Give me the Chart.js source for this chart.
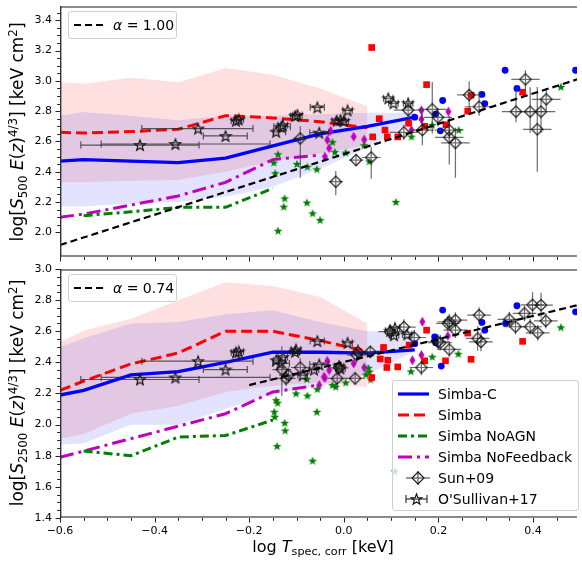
<!DOCTYPE html>
<html><head><meta charset="utf-8">
<script src="https://cdn.jsdelivr.net/npm/chart.js@4.4.1/dist/chart.umd.min.js"></script>
<style>
html,body{margin:0;padding:0;background:#fff;}
#wrap{position:relative;width:582px;height:562px;overflow:hidden;font-family:"DejaVu Sans",sans-serif;color:#000;}
canvas{position:absolute;left:0;}
#c1{top:0;} #c2{top:262px;}
.ylab,.xlab{position:absolute;white-space:nowrap;font-size:16px;line-height:1;}
.ylab{transform:translate(-50%,-50%) rotate(-90deg);font-size:17px;}
.xlab{transform:translate(-50%,-50%);}
.sub{font-size:0.7em;vertical-align:-0.3em;}
.sup{font-size:0.7em;vertical-align:0.5em;}
.box{position:absolute;box-sizing:border-box;border:1px solid #d0d0d0;border-radius:3px;background:rgba(255,255,255,0.8);z-index:5;}
.row{position:absolute;left:0;height:20px;width:100%;}
.row svg{position:absolute;left:4px;top:2px;}
.row span{position:absolute;left:45px;top:2px;font-size:14px;line-height:16px;white-space:nowrap;}
</style></head>
<body><div id="wrap">
<canvas id="c1" width="582" height="262"></canvas>
<canvas id="c2" width="582" height="300"></canvas>

<div class="ylab" style="left:19px;top:132px;">log[<i>S</i><span class="sub">500</span> <i>E</i>(<i>z</i>)<span class="sup">4/3</span>] [keV cm<span class="sup">2</span>]</div>
<div class="ylab" style="left:19px;top:393px;">log[<i>S</i><span class="sub">2500</span> <i>E</i>(<i>z</i>)<span class="sup">4/3</span>] [keV cm<span class="sup">2</span>]</div>
<div class="xlab" style="left:323px;top:548px;">log <i>T</i><span class="sub">spec, corr</span> [keV]</div>

<div class="box" style="left:68px;top:11px;width:109px;height:28px;">
  <div class="row" style="top:3px;"><svg width="32" height="16"><line x1="1" y1="8" x2="31" y2="8" stroke="#000" stroke-width="2.2" stroke-dasharray="7,4"/></svg><span style="left:44px;"><i>α</i> = 1.00</span></div>
</div>
<div class="box" style="left:68px;top:274px;width:109px;height:28px;">
  <div class="row" style="top:3px;"><svg width="32" height="16"><line x1="1" y1="8" x2="31" y2="8" stroke="#000" stroke-width="2.2" stroke-dasharray="7,4"/></svg><span style="left:44px;"><i>α</i> = 0.74</span></div>
</div>

<div class="box" style="left:392px;top:380px;width:187px;height:131px;">
  <div class="row" style="top:3px;"><svg width="34" height="16"><line x1="1" y1="8" x2="32" y2="8" stroke="#0000ff" stroke-width="3.2"/></svg><span>Simba-C</span></div>
  <div class="row" style="top:24px;"><svg width="34" height="16"><line x1="1" y1="8" x2="32" y2="8" stroke="#ff0000" stroke-width="3" stroke-dasharray="11,5"/></svg><span>Simba</span></div>
  <div class="row" style="top:45px;"><svg width="34" height="16"><line x1="1" y1="8" x2="32" y2="8" stroke="#008000" stroke-width="3" stroke-dasharray="9,4,3,4"/></svg><span>Simba NoAGN</span></div>
  <div class="row" style="top:66px;"><svg width="34" height="16"><line x1="1" y1="8" x2="32" y2="8" stroke="#bf00bf" stroke-width="3" stroke-dasharray="14,5,3,5"/></svg><span>Simba NoFeedback</span></div>
  <div class="row" style="top:87px;"><svg width="34" height="16"><line x1="9" y1="8" x2="33" y2="8" stroke="#555" stroke-width="1.2"/><line x1="21" y1="1" x2="21" y2="15" stroke="#555" stroke-width="1.2"/><path d="M21 2 L27 8 L21 14 L15 8Z" fill="none" stroke="#111" stroke-width="1.1"/></svg><span>Sun+09</span></div>
  <div class="row" style="top:108px;"><svg width="34" height="16"><line x1="9" y1="8" x2="30" y2="8" stroke="#333" stroke-width="1.2"/><line x1="9" y1="4" x2="9" y2="12" stroke="#333" stroke-width="1.2"/><line x1="30" y1="4" x2="30" y2="12" stroke="#333" stroke-width="1.2"/><path id="lstar" d="" fill="none" stroke="#111" stroke-width="1.2"/></svg><span>O'Sullivan+17</span></div>
</div>
</div>

<script>
// ---------------- DATA ----------------
const xMajorTicks = [-0.6, -0.4, -0.2, 0.0, 0.2, 0.4];
const y500Ticks   = [2.0, 2.2, 2.4, 2.6, 2.8, 3.0, 3.2, 3.4];
const y2500Ticks  = [1.4, 1.6, 1.8, 2.0, 2.2, 2.4, 2.6, 2.8, 3.0];
const xRange      = [-0.6, 0.493];
const y500Range   = [1.837, 3.494];
const y2500Range  = [1.4, 3.0];

// binned medians (x of bins)
const binX   = [-0.6, -0.55, -0.45, -0.35, -0.25, -0.15, -0.05, 0.05, 0.15];
const noAGNX = [-0.55, -0.45, -0.35, -0.25, -0.15];
const noFBX  = [-0.6, -0.55, -0.45, -0.35, -0.25, -0.15, -0.05];

// ---- top panel: S500 ----
const simbaC500   = [2.47, 2.48, 2.47, 2.46, 2.49, 2.57, 2.65, 2.70, 2.76];
const simbaC500Lo = [2.17, 2.17, 2.19, 2.20, 2.235, 2.30, 2.42, 2.56, 2.74];
const simbaC500Hi = [2.77, 2.795, 2.77, 2.74, 2.77, 2.77, 2.78, 2.79, 2.79];
const simba500    = [2.66, 2.655, 2.665, 2.68, 2.77, 2.755, 2.73, 2.69];
const simba500Lo  = [2.33, 2.33, 2.34, 2.345, 2.40, 2.47, 2.52, 2.575];
const simba500Hi  = [2.99, 2.98, 3.02, 2.99, 3.085, 3.04, 2.95, 2.83];
const noAGN500    = [2.11, 2.135, 2.165, 2.165, 2.29];
const noFB500     = [2.10, 2.12, 2.18, 2.24, 2.33, 2.48, 2.51];
const alpha500X   = [-0.6, 0.5];
const alpha500Y   = [1.916, 3.016];

const simbaCPts500X = [0.15, 0.194, 0.204, 0.209, 0.292, 0.298, 0.341, 0.366, 0.49];
const simbaCPts500Y = [2.76, 2.78, 2.67, 2.87, 2.91, 2.85, 3.07, 2.95, 3.07];
const simbaPts500X  = [0.059, 0.061, 0.075, 0.087, 0.092, 0.114, 0.137, 0.171, 0.175, 0.216, 0.262, 0.269, 0.378];
const simbaPts500Y  = [3.22, 2.63, 2.75, 2.675, 2.63, 2.63, 2.72, 2.70, 2.975, 2.71, 2.80, 2.905, 2.925];
const noAGNPts500X  = [-0.148, -0.145, -0.139, -0.125, -0.127, -0.139, -0.099, -0.078, -0.066, -0.05, -0.077, -0.057, -0.024, -0.019, 0.004, 0.043, 0.054, 0.11, 0.143, 0.187, 0.243, 0.459];
const noAGNPts500Y  = [2.46, 2.39, 2.515, 2.224, 2.169, 2.01, 2.451, 2.196, 2.125, 2.081, 2.433, 2.416, 2.595, 2.53, 2.526, 2.575, 2.468, 2.20, 2.632, 2.708, 2.675, 2.96];
const noFBPts500X   = [-0.04, -0.035, -0.031, -0.028, 0.021, 0.043, 0.143, 0.164, 0.164, 0.221];
const noFBPts500Y   = [2.50, 2.61, 2.555, 2.67, 2.631, 2.612, 2.675, 2.805, 2.746, 2.797];

const sun500X    = [-0.092, -0.017, 0.026, 0.058, 0.127, 0.136, 0.166, 0.187, 0.199, 0.223, 0.223, 0.236, 0.265, 0.286, 0.364, 0.384, 0.394, 0.409, 0.417, 0.428];
const sun500Y    = [2.62, 2.334, 2.477, 2.494, 2.66, 2.807, 2.675, 2.812, 2.759, 2.627, 2.675, 2.591, 2.907, 2.829, 2.797, 3.01, 2.797, 2.68, 2.797, 2.878];
const sun500XErr = [0.015, 0.015, 0.015, 0.02, 0.03, 0.03, 0.025, 0.03, 0.03, 0.03, 0.03, 0.03, 0.025, 0.03, 0.03, 0.03, 0.03, 0.03, 0.03, 0.03];
const sun500YUp  = [0.08, 0.07, 0.04, 0.07, 0.05, 0.07, 0.11, 0.18, 0.06, 0.14, 0.06, 0.10, 0.09, 0.10, 0.14, 0.06, 0.16, 0.28, 0.08, 0.07];
const sun500YDn  = [0.26, 0.09, 0.04, 0.14, 0.05, 0.07, 0.10, 0.16, 0.06, 0.18, 0.06, 0.23, 0.10, 0.06, 0.07, 0.07, 0.14, 0.28, 0.14, 0.07];

const os500X   = [-0.431, -0.356, -0.308, -0.25, -0.228, -0.222, -0.143, -0.132, -0.129, -0.103, -0.098, -0.056, -0.052, -0.015, -0.007, 0.0, 0.008, 0.094, 0.105, 0.136];
const os500Y   = [2.576, 2.583, 2.685, 2.636, 2.737, 2.745, 2.664, 2.697, 2.708, 2.768, 2.775, 2.825, 2.658, 2.737, 2.742, 2.735, 2.805, 2.885, 2.852, 2.852];
const os500XLo = [0.125, 0.157, 0.119, 0.047, 0.01, 0.01, 0.006, 0.016, 0.01, 0.01, 0.01, 0.015, 0.02, 0.01, 0.01, 0.01, 0.01, 0.01, 0.01, 0.01];
const os500XHi = [0.125, 0.200, 0.116, 0.046, 0.01, 0.01, 0.02, 0.019, 0.01, 0.01, 0.01, 0.015, 0.02, 0.01, 0.01, 0.01, 0.01, 0.01, 0.01, 0.01];

// ---- bottom panel: S2500 ----
const simbaC2500   = [2.19, 2.22, 2.32, 2.34, 2.40, 2.465, 2.465, 2.46, 2.48];
const simbaC2500Lo = [1.87, 1.88, 2.00, 2.00, 2.10, 2.20, 2.25, 2.32, 2.47];
const simbaC2500Hi = [2.50, 2.555, 2.65, 2.66, 2.71, 2.735, 2.66, 2.60, 2.60];
const simba2500    = [2.22, 2.28, 2.39, 2.46, 2.60, 2.60, 2.54, 2.47];
const simba2500Lo  = [1.91, 1.94, 2.07, 2.12, 2.21, 2.25, 2.27, 2.24];
const simba2500Hi  = [2.53, 2.605, 2.68, 2.80, 2.915, 2.89, 2.82, 2.65];
const noAGN2500    = [1.83, 1.80, 1.92, 1.93, 2.03];
const noFB2500     = [1.79, 1.83, 1.91, 1.99, 2.07, 2.21, 2.255];
const alpha2500X   = [-0.2, 0.5];
const alpha2500Y   = [2.254, 2.772];

const simbaCPts2500X = [0.15, 0.192, 0.194, 0.206, 0.209, 0.292, 0.298, 0.342, 0.366, 0.49];
const simbaCPts2500Y = [2.52, 2.564, 2.526, 2.376, 2.736, 2.657, 2.607, 2.65, 2.764, 2.725];
const simbaPts2500X  = [0.059, 0.077, 0.084, 0.091, 0.093, 0.114, 0.138, 0.171, 0.175, 0.215, 0.262, 0.269, 0.378];
const simbaPts2500Y  = [2.303, 2.422, 2.496, 2.367, 2.414, 2.371, 2.511, 2.41, 2.607, 2.41, 2.588, 2.42, 2.535];
const noAGNPts2500X  = [-0.143, -0.14, -0.147, -0.146, -0.125, -0.124, -0.141, -0.101, -0.077, -0.078, -0.057, -0.056, -0.066, -0.024, -0.017, 0.004, 0.047, 0.052, 0.054, 0.057, 0.108, 0.142, 0.187, 0.242, 0.459];
const noAGNPts2500Y  = [2.157, 2.14, 2.082, 2.05, 2.011, 1.962, 1.862, 2.20, 2.186, 2.293, 2.082, 2.228, 1.768, 2.254, 2.243, 2.27, 2.322, 2.365, 2.34, 2.29, 1.70, 2.342, 2.436, 2.455, 2.625];
const noFBPts2500X   = [-0.052, -0.042, -0.04, -0.035, -0.031, 0.021, 0.043, 0.145, 0.164, 0.166, 0.22];
const noFBPts2500Y   = [2.254, 2.307, 2.30, 2.41, 2.35, 2.393, 2.367, 2.414, 2.447, 2.661, 2.57];

const sun2500X    = [-0.131, -0.122, -0.117, -0.092, -0.014, -0.01, 0.024, 0.027, 0.03, 0.056, 0.098, 0.127, 0.149, 0.164, 0.199, 0.204, 0.22, 0.223, 0.223, 0.236, 0.236, 0.283, 0.286, 0.29, 0.35, 0.363, 0.382, 0.394, 0.399, 0.41, 0.417, 0.427];
const sun2500Y    = [2.354, 2.297, 2.318, 2.367, 2.297, 2.365, 2.297, 2.447, 2.468, 2.468, 2.597, 2.627, 2.56, 2.367, 2.532, 2.526, 2.65, 2.483, 2.661, 2.672, 2.607, 2.554, 2.704, 2.532, 2.676, 2.629, 2.715, 2.629, 2.77, 2.59, 2.768, 2.667];
const sun2500XErr = [0.02, 0.02, 0.02, 0.02, 0.02, 0.02, 0.02, 0.02, 0.02, 0.02, 0.025, 0.025, 0.025, 0.025, 0.025, 0.025, 0.025, 0.025, 0.025, 0.025, 0.025, 0.025, 0.025, 0.025, 0.025, 0.025, 0.025, 0.025, 0.025, 0.025, 0.025, 0.025];
const sun2500YUp  = [0.15, 0.05, 0.05, 0.06, 0.05, 0.05, 0.04, 0.05, 0.05, 0.04, 0.05, 0.05, 0.05, 0.05, 0.05, 0.05, 0.05, 0.05, 0.05, 0.05, 0.05, 0.08, 0.05, 0.06, 0.05, 0.05, 0.05, 0.05, 0.08, 0.05, 0.08, 0.05];
const sun2500YDn  = [0.17, 0.05, 0.05, 0.06, 0.05, 0.05, 0.04, 0.05, 0.05, 0.04, 0.05, 0.05, 0.05, 0.05, 0.05, 0.05, 0.05, 0.05, 0.05, 0.05, 0.05, 0.08, 0.05, 0.06, 0.05, 0.05, 0.05, 0.05, 0.08, 0.05, 0.08, 0.05];

const os2500X   = [-0.431, -0.356, -0.308, -0.25, -0.228, -0.222, -0.143, -0.134, -0.129, -0.103, -0.101, -0.087, -0.063, -0.056, -0.052, -0.01, -0.007, 0.008, 0.098, 0.106, 0.108, 0.134];
const os2500Y   = [2.29, 2.303, 2.408, 2.354, 2.464, 2.47, 2.414, 2.393, 2.434, 2.468, 2.483, 2.318, 2.354, 2.537, 2.387, 2.376, 2.361, 2.526, 2.603, 2.575, 2.622, 2.58];
const os2500XLo = [0.125, 0.157, 0.119, 0.047, 0.01, 0.01, 0.006, 0.016, 0.01, 0.01, 0.01, 0.01, 0.01, 0.015, 0.02, 0.01, 0.01, 0.01, 0.01, 0.01, 0.01, 0.01];
const os2500XHi = [0.125, 0.200, 0.116, 0.046, 0.01, 0.01, 0.02, 0.019, 0.01, 0.01, 0.01, 0.01, 0.01, 0.015, 0.02, 0.01, 0.01, 0.01, 0.01, 0.01, 0.01, 0.01];

// ---------------- MARKERS ----------------
function starPath(g, cx, cy, R, r) {
  g.beginPath();
  for (let k = 0; k < 10; k++) {
    const a = -Math.PI / 2 + k * Math.PI / 5, rad = k % 2 ? r : R;
    g.lineTo(cx + rad * Math.cos(a), cy + rad * Math.sin(a));
  }
  g.closePath();
}
function mk(w, h, fn) { const c = document.createElement('canvas'); c.width = w; c.height = h; fn(c.getContext('2d')); return c; }
const greenStar   = mk(10, 10, g => { starPath(g, 5, 5.4, 4.6, 1.9); g.fillStyle = '#008000'; g.fill(); });
const openStar    = mk(14, 14, g => { starPath(g, 7, 7.6, 5.6, 2.3); g.strokeStyle = '#111'; g.lineWidth = 1.2; g.stroke(); });
const openDiamond = mk(14, 14, g => { g.beginPath(); g.moveTo(7, 1.3); g.lineTo(12.7, 7); g.lineTo(7, 12.7); g.lineTo(1.3, 7); g.closePath(); g.strokeStyle = '#111'; g.lineWidth = 1.1; g.stroke(); });
const thinDiamond = mk(7, 11, g => { g.beginPath(); g.moveTo(3.5, 0.5); g.lineTo(6.5, 5.5); g.lineTo(3.5, 10.5); g.lineTo(0.5, 5.5); g.closePath(); g.fillStyle = '#bf00bf'; g.fill(); });

// legend star path
(function () {
  let d = '';
  for (let k = 0; k < 10; k++) {
    const a = -Math.PI / 2 + k * Math.PI / 5, rad = k % 2 ? 2.3 : 5.6;
    d += (k ? 'L' : 'M') + (19.5 + rad * Math.cos(a)).toFixed(2) + ' ' + (8.6 + rad * Math.sin(a)).toFixed(2);
  }
  document.getElementById('lstar').setAttribute('d', d + 'Z');
})();

// ---------------- PLUGINS ----------------
const errorBars = {
  id: 'errorBars',
  beforeDatasetDraw(chart, args) {
    const ds = chart.data.datasets[args.index];
    if (!ds.errXLo && !ds.errYUp) return;
    const { ctx, chartArea: a, scales: { x, y } } = chart;
    ctx.save();
    ctx.beginPath(); ctx.rect(a.left, a.top, a.right - a.left, a.bottom - a.top); ctx.clip();
    ctx.strokeStyle = ds.errColor; ctx.lineWidth = ds.errWidth;
    ds.data.forEach((p, i) => {
      const px = x.getPixelForValue(p.x), py = y.getPixelForValue(p.y);
      ctx.beginPath();
      if (ds.errXLo) {
        const x0 = x.getPixelForValue(p.x - ds.errXLo[i]), x1 = x.getPixelForValue(p.x + ds.errXHi[i]);
        ctx.moveTo(x0, py); ctx.lineTo(x1, py);
        if (ds.cap) {
          ctx.moveTo(x0, py - ds.cap); ctx.lineTo(x0, py + ds.cap);
          ctx.moveTo(x1, py - ds.cap); ctx.lineTo(x1, py + ds.cap);
        }
      }
      if (ds.errYUp) {
        ctx.moveTo(px, y.getPixelForValue(p.y + ds.errYUp[i]));
        ctx.lineTo(px, y.getPixelForValue(p.y - ds.errYDn[i]));
      }
      ctx.stroke();
    });
    ctx.restore();
  }
};

const frame = {
  id: 'frame',
  afterDraw(chart) {
    const { ctx, chartArea: a, scales: { x, y } } = chart;
    const yMajor = chart.options.scales.y.majorTicks;
    ctx.save();
    // horizontal spines (grey, soft)
    ctx.strokeStyle = '#8a8a8a'; ctx.lineWidth = 2;
    ctx.beginPath();
    ctx.moveTo(a.left, a.top + 1); ctx.lineTo(a.right, a.top + 1);
    ctx.moveTo(a.left, a.bottom - 1); ctx.lineTo(a.right, a.bottom - 1);
    ctx.stroke();
    // left spine
    ctx.strokeStyle = '#333'; ctx.lineWidth = 1.4;
    ctx.beginPath(); ctx.moveTo(a.left + 0.7, a.top); ctx.lineTo(a.left + 0.7, a.bottom); ctx.stroke();
    const isMaj = (arr, v) => arr.some(m => Math.abs(m - v) < 1e-6);
    ctx.strokeStyle = '#222'; ctx.lineWidth = 1;
    for (let k = 0; ; k++) {
      const v = Math.round((xRange[0] + k * 0.05) * 100) / 100;
      if (v > xRange[1]) break;
      const p = Math.round(x.getPixelForValue(v)) + 0.5;
      const L = isMaj(xMajorTicks, v) ? 4.5 : 2.8;
      ctx.beginPath(); ctx.moveTo(p, a.bottom); ctx.lineTo(p, a.bottom + L); ctx.stroke();
    }
    for (let k = 0; ; k++) {
      const v = Math.round((yMajor[0] + k * 0.05) * 100) / 100;
      if (v > y.max + 1e-9) break;
      const p = Math.round(y.getPixelForValue(v)) + 0.5;
      const L = isMaj(yMajor, v) ? 4.5 : 2.8;
      ctx.beginPath(); ctx.moveTo(a.left, p); ctx.lineTo(a.left - L, p); ctx.stroke();
    }
    ctx.restore();
  }
};

// ---------------- BUILD ----------------
const pts = (xs, ys) => xs.map((v, i) => ({ x: v, y: ys[i] }));
const fmt = v => v.toFixed(1).replace('-', '\u2212');
Chart.defaults.font.family = "'DejaVu Sans', sans-serif";
Chart.defaults.color = '#000';

function datasets(p) {
  const line = (data, color, width, dash, order) => ({ data, borderColor: color, borderWidth: width, borderDash: dash, pointRadius: 0, fill: false, tension: 0, order, borderCapStyle: 'butt' });
  const scat = (data, opts, order) => Object.assign({ data, showLine: false, pointRadius: 5, pointBorderWidth: 0, order }, opts);
  const sb = binX.slice(0, p.s.length);
  return [
    { data: pts(binX, p.cLo), borderWidth: 0, borderColor: 'rgba(0,0,0,0)', pointRadius: 0, fill: false, order: 101 },
    { data: pts(binX, p.cHi), borderWidth: 0, borderColor: 'rgba(0,0,0,0)', pointRadius: 0, fill: 0, backgroundColor: 'rgba(0,0,255,0.11)', order: 100 },
    { data: pts(sb, p.sLo), borderWidth: 0, borderColor: 'rgba(0,0,0,0)', pointRadius: 0, fill: false, order: 103 },
    { data: pts(sb, p.sHi), borderWidth: 0, borderColor: 'rgba(0,0,0,0)', pointRadius: 0, fill: 2, backgroundColor: 'rgba(255,0,0,0.12)', order: 102 },
    line(pts(binX, p.c), '#0000ff', 3.3, [], 50),
    line(pts(sb, p.s), '#ff0000', 3, [11, 5], 51),
    line(pts(noAGNX, p.nA), '#008000', 3, [9, 4, 3, 4], 52),
    line(pts(noFBX, p.nF), '#bf00bf', 3, [14, 5, 3, 5], 53),
    scat(pts(p.cpX, p.cpY), { pointStyle: 'circle', pointRadius: 3.4, pointBackgroundColor: '#0000ff' }, 30),
    scat(pts(p.spX, p.spY), { pointStyle: 'rect', pointRadius: 4.7, pointBackgroundColor: '#ff0000' }, 31),
    scat(pts(p.gpX, p.gpY), { pointStyle: greenStar }, 32),
    scat(pts(p.mpX, p.mpY), { pointStyle: thinDiamond }, 33),
    scat(pts(p.sunX, p.sunY), { pointStyle: openDiamond, errXLo: p.sunXE, errXHi: p.sunXE, errYUp: p.sunYU, errYDn: p.sunYD, errColor: 'rgba(60,60,60,0.75)', errWidth: 1.2 }, 20),
    scat(pts(p.osX, p.osY), { pointStyle: openStar, errXLo: p.osXL, errXHi: p.osXH, cap: 3.5, errColor: 'rgba(40,40,40,0.75)', errWidth: 1.2 }, 21),
    line(pts(p.aX, p.aY), '#000000', 2.2, [7, 4], 5)
  ];
}

function makeChart(id, p, yRange, yTicks, padTop, xHeight, showXLabels) {
  return new Chart(document.getElementById(id), {
    type: 'line',
    data: { datasets: datasets(p) },
    plugins: [errorBars, frame],
    options: {
      responsive: false, animation: false, events: [],
      layout: { padding: { top: padTop, left: 0, right: 0, bottom: 0 } },
      plugins: { legend: { display: false }, tooltip: { enabled: false } },
      scales: {
        x: {
          type: 'linear', min: xRange[0], max: xRange[1],
          grid: { display: false, drawTicks: false }, border: { display: false },
          ticks: { display: showXLabels, padding: 7, font: { size: 11 }, color: '#000', callback: v => fmt(v) },
          afterBuildTicks: s => { s.ticks = xMajorTicks.map(v => ({ value: v })); },
          afterFit: s => { s.height = xHeight; s.paddingLeft = 0; s.paddingRight = 0; s.paddingTop = 0; s.paddingBottom = 0; }
        },
        y: {
          type: 'linear', min: yRange[0], max: yRange[1], majorTicks: yTicks,
          grid: { display: false, drawTicks: false }, border: { display: false },
          ticks: { padding: 8, font: { size: 11 }, color: '#000', callback: v => fmt(v) },
          afterBuildTicks: s => { s.ticks = yTicks.map(v => ({ value: v })); },
          afterFit: s => { s.width = 60; s.paddingLeft = 0; s.paddingRight = 0; s.paddingTop = 0; s.paddingBottom = 0; }
        }
      }
    }
  });
}

makeChart('c1', {
  c: simbaC500, cLo: simbaC500Lo, cHi: simbaC500Hi, s: simba500, sLo: simba500Lo, sHi: simba500Hi,
  nA: noAGN500, nF: noFB500, aX: alpha500X, aY: alpha500Y,
  cpX: simbaCPts500X, cpY: simbaCPts500Y, spX: simbaPts500X, spY: simbaPts500Y,
  gpX: noAGNPts500X, gpY: noAGNPts500Y, mpX: noFBPts500X, mpY: noFBPts500Y,
  sunX: sun500X, sunY: sun500Y, sunXE: sun500XErr, sunYU: sun500YUp, sunYD: sun500YDn,
  osX: os500X, osY: os500Y, osXL: os500XLo, osXH: os500XHi
}, y500Range, y500Ticks, 6, 5, false);

makeChart('c2', {
  c: simbaC2500, cLo: simbaC2500Lo, cHi: simbaC2500Hi, s: simba2500, sLo: simba2500Lo, sHi: simba2500Hi,
  nA: noAGN2500, nF: noFB2500, aX: alpha2500X, aY: alpha2500Y,
  cpX: simbaCPts2500X, cpY: simbaCPts2500Y, spX: simbaPts2500X, spY: simbaPts2500Y,
  gpX: noAGNPts2500X, gpY: noAGNPts2500Y, mpX: noFBPts2500X, mpY: noFBPts2500Y,
  sunX: sun2500X, sunY: sun2500Y, sunXE: sun2500XErr, sunYU: sun2500YUp, sunYD: sun2500YDn,
  osX: os2500X, osY: os2500Y, osXL: os2500XLo, osXH: os2500XHi
}, y2500Range, y2500Ticks, 7, 44, true);
</script>
</body></html>
